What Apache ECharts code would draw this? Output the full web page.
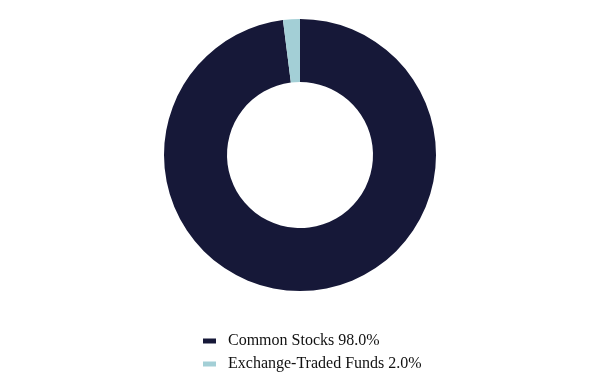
<!DOCTYPE html>
<html><head><meta charset="utf-8">
<script src="https://cdn.jsdelivr.net/npm/echarts@6/dist/echarts.min.js"></script>
<style>html,body{margin:0;padding:0;background:#fff}#c{width:600px;height:372px}</style>
</head><body><div id="c"></div>
<script>
const categories = ["Common Stocks", "Exchange-Traded Funds"];
const values = [98.0, 2.0];
const colors = ["#161838", "#a3cfd6"];
const chart = echarts.init(document.getElementById('c'), null, {renderer: 'canvas'});
chart.setOption({
  animation: false,
  color: colors,
  legend: {
    orient: 'vertical',
    left: 203,
    top: 333,
    padding: 0,
    itemWidth: 13,
    itemHeight: 5,
    itemGap: 7,
    icon: 'rect',
    textStyle: {fontFamily: 'Liberation Serif', fontSize: 16, color: '#111', padding: [0, 0, 0, 7]},
    formatter: function(name){
      const i = categories.indexOf(name);
      return name + ' ' + values[i].toFixed(1) + '%';
    }
  },
  series: [{
    type: 'pie',
    center: [300, 155],
    radius: [73, 136],
    startAngle: 90,
    label: {show: false},
    labelLine: {show: false},
    itemStyle: {borderWidth: 0},
    data: categories.map((c, i) => ({name: c, value: values[i]}))
  }]
});
</script></body></html>
